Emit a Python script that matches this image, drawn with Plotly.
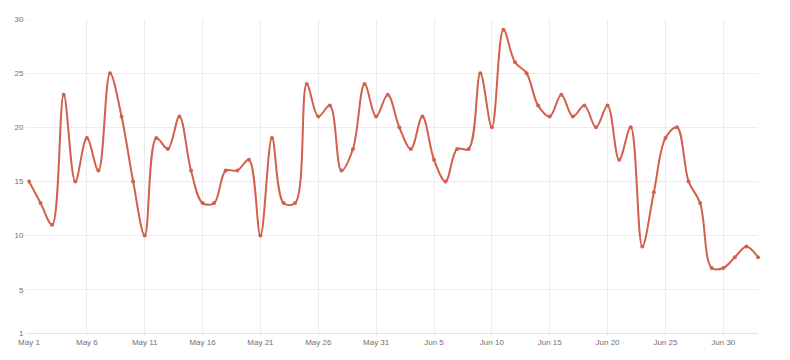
import plotly.graph_objects as go
import pandas as pd

start_date = "2024-05-01"
end_date = "2024-07-03"
values = [15, 13, 11, 23, 15, 19, 16, 25, 21, 15,
          10, 19, 18, 21, 16, 13, 13, 16, 16, 17,
          10, 19, 13, 13, 24, 21, 22, 16, 18, 24,
          21, 23, 20, 18, 21, 17, 15, 18, 18, 25,
          20, 29, 26, 25, 22, 21, 23, 21, 22, 20,
          22, 17, 20, 9, 14, 19, 20, 15, 13, 7,
          7, 8, 9, 8]
dates = pd.date_range(start_date, periods=len(values), freq="D")
y_ticks = [1, 5, 10, 15, 20, 25, 30]
x_ticks = pd.date_range(start_date, end_date, freq="5D")
x_labels = [d.strftime("%b %-d") for d in x_ticks]

color = "#d2604d"
fig = go.Figure(go.Scatter(
    x=dates, y=values, mode="lines+markers",
    line=dict(color=color, width=2, shape="spline", smoothing=1),
    marker=dict(color=color, size=4),
    cliponaxis=False, hoverinfo="x+y",
))
tickfont = dict(family="Liberation Sans, Arial, sans-serif", size=8, color="#707070")
fig.update_layout(
    width=790, height=360,
    margin=dict(l=29, r=32, t=19, b=27),
    paper_bgcolor="white", plot_bgcolor="white",
    showlegend=False,
    xaxis=dict(range=[dates[0], pd.Timestamp(end_date)], tickvals=x_ticks, ticktext=x_labels,
               showgrid=True, gridcolor="#ececec", gridwidth=1,
               ticks="outside", ticklen=1, tickcolor="#ececec",
               showline=True, linecolor="#e2e2e2", linewidth=1,
               zeroline=False, tickfont=tickfont, tickangle=0),
    yaxis=dict(range=[1, 30], tickvals=y_ticks,
               showgrid=True, gridcolor="#ececec", gridwidth=1,
               ticks="outside", ticklen=3, tickcolor="#ececec",
               showline=False, zeroline=False, tickfont=tickfont),
)
fig.write_html("out.html")
